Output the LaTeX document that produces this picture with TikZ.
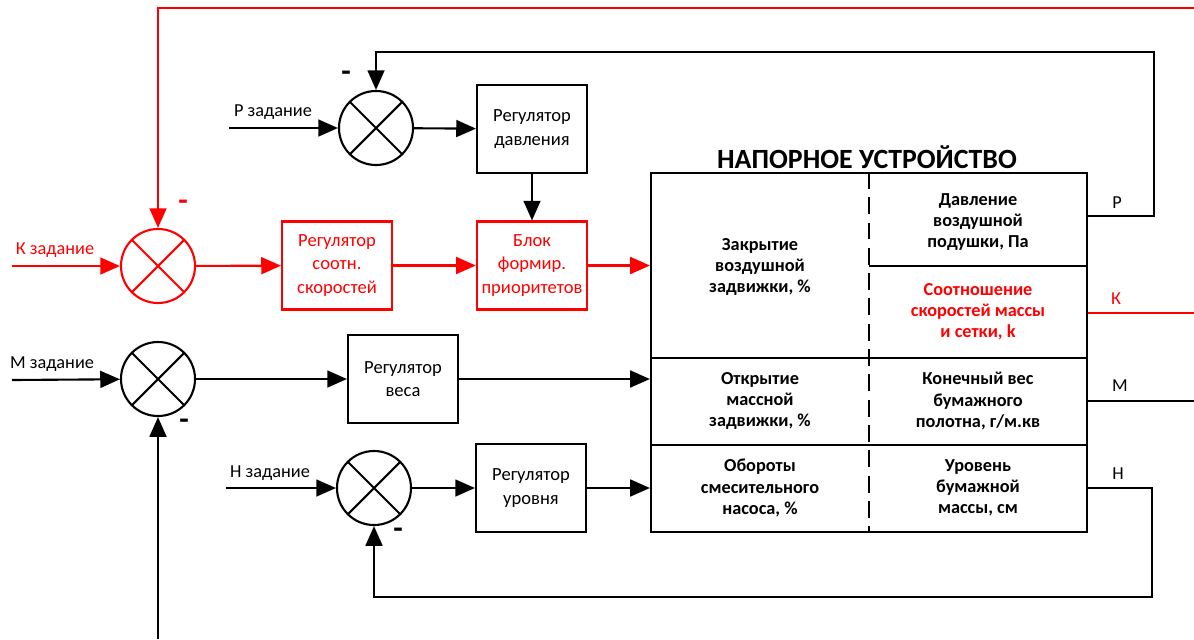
\documentclass[tikz,border=0pt]{standalone}
\usepackage{fontspec}
\setmainfont{Carlito}
\usetikzlibrary{arrows.meta,calc,positioning}

\begin{document}
\begin{tikzpicture}
[
	              x = 0.025cm,
	              y = -0.025cm,
	           line width = 1.5pt,
	           >= {Triangle[length=14pt,width=12pt]},
	  summer/.style = { draw, circle, minimum size=1.85cm, inner sep=0pt,
	                    path picture={\draw (path picture bounding box.north west) -- (path picture bounding box.south east)
	                                        (path picture bounding box.north east) -- (path picture bounding box.south west);} },
	   block/.style = { draw, minimum width=2.75cm, minimum height=2.2cm, align=center,
	                    font=\fontsize{13.2}{16.5}\selectfont },
	   lbl/.style   = { font=\fontsize{13}{15}\selectfont },
	   cell/.style  = { align=center, font=\fontsize{13}{15}\selectfont\bfseries },
	   minus/.style = { font=\fontsize{22}{22}\selectfont\bfseries, inner sep=0pt }
]
	\useasboundingbox (0,0) rectangle (1194,639);

	% plant
	% nodes
	\node (TT) at (867,157) [font=\fontsize{19.8}{22}\selectfont\bfseries] {НАПОРНОЕ УСТРОЙСТВО};
	\node (PL) at (869,352.5) [draw, minimum width=10.9cm, minimum height=8.975cm] {};
	\node (C1) at (760,267)  [cell] {Закрытие\\воздушной\\задвижки, \%};
	\node (C2) at (978,222)  [cell] {Давление\\воздушной\\подушки, Па};
	\node (C3) at (978,312)  [cell, red] {Соотношение\\скоростей массы\\и сетки, k};
	\node (C4) at (760,401)  [cell] {Открытие\\массной\\задвижки, \%};
	\node (C5) at (978,401)  [cell] {Конечный вес\\бумажного\\полотна, г/м.кв};
	\node (C6) at (760,488)  [cell] {Обороты\\смесительного\\насоса, \%};
	\node (C7) at (978,488)  [cell] {Уровень\\бумажной\\массы, см};

	% cell lines
	\draw (PL.west |- 0,358) -- (PL.east |- 0,358);
	\draw (PL.west |- 0,445) -- (PL.east |- 0,445);
	\draw (869,266) -- (PL.east |- 0,266);
	\draw [dash pattern=on 12pt off 6pt] (PL.north) -- (PL.south);

	% pressure loop
	% nodes
	\coordinate (PI) at (229,128);
	\coordinate (PO) at (1087,216);
	\node (TP) at (273,112) [lbl] {Р задание};
	\node (SP) at (376,128) [summer] {};
	\node (MP) at (346,76)  [minus] {-};
	\node (RD) at (532,129) [block] {Регулятор\\давления};
	\node (OP) at (1117,203) [lbl] {Р};

	% edges
	\draw [->] (PI) -- (SP);
	\draw [->] (SP) -- (RD);
	\draw [->] (PO) -| (1154,52) -| (SP);

	% speed ratio loop
	% nodes
	\coordinate (KI) at (12,266);
	\coordinate (KO) at (1194,313);
	\coordinate (KT) at (1194,8);
	\node (TK) at (55,250)   [lbl, red] {К задание};
	\node (SK) at (158,266)  [summer, red] {};
	\node (MK) at (183,205)  [minus, red] {-};
	\node (RK) at (337,265.5) [block, red] {Регулятор\\соотн.\\скоростей};
	\node (BP) at (532,265.5) [block, red] {Блок\\формир.\\приоритетов};
	\node (OK) at (1116,299) [lbl, red] {К};

	% edges
	\draw [->] (RD) -- (BP);
	\draw [->, red] (KI) -- (SK);
	\draw [->, red] (SK) -- (RK);
	\draw [->, red] (RK) -- (BP);
	\draw [->, red] (BP) -- (BP -| PL.west);
	\draw [red] (PL.east |- KO) -- (KO);
	\draw [->, red] (KT) -| (SK);

	% weight loop
	% nodes
	\coordinate (MI) at (12,380);
	\coordinate (MO) at (1194,401);
	\coordinate (MB) at (158,639);
	\node (TM) at (52,364)   [lbl] {М задание};
	\node (SM) at (158,379)  [summer] {};
	\node (MM) at (184,424)  [minus] {-};
	\node (RW) at (403,379)  [block] {Регулятор\\веса};
	\node (OM) at (1120,386) [lbl] {М};

	% edges
	\draw [->] (MI) -- (SM);
	\draw [->] (SM) -- (RW);
	\draw [->] (RW) -- (RW -| PL.west);
	\draw (PL.east |- MO) -- (MO);
	\draw [->] (MB) -- (SM);

	% level loop
	% nodes
	\coordinate (HI) at (226,488);
	\coordinate (HO) at (1087,488);
	\node (TH) at (270,473)  [lbl] {Н задание};
	\node (SH) at (374,488)  [summer] {};
	\node (MH) at (398,533)  [minus] {-};
	\node (RL) at (531,488)  [block] {Регулятор\\уровня};
	\node (OH) at (1118,474) [lbl] {Н};

	% edges
	\draw [->] (HI) -- (SH);
	\draw [->] (SH) -- (RL);
	\draw [->] (RL) -- (RL -| PL.west);
	\draw [->] (HO) -| (1152,597) -| (SH);
\end{tikzpicture}
\end{document}
